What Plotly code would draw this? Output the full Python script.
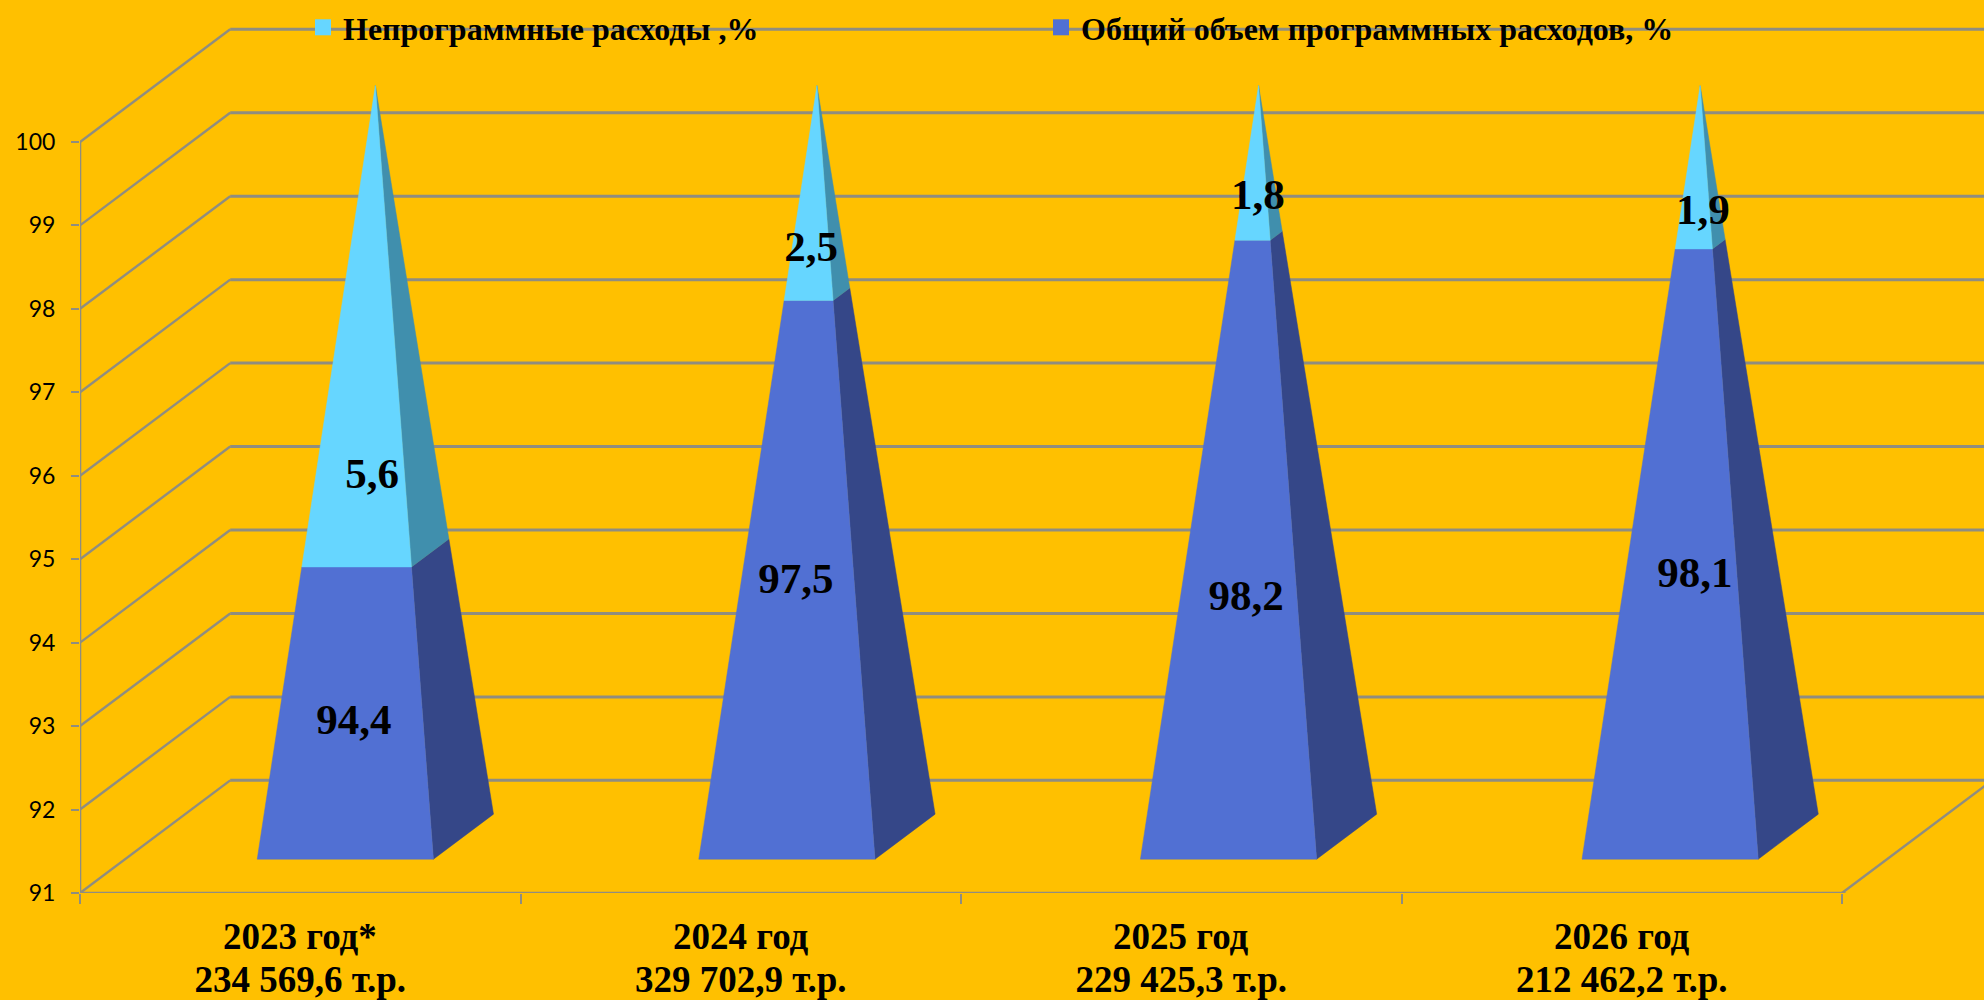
import plotly.graph_objects as go

# ---- data ----
years = ["2023 год*", "2024 год", "2025 год", "2026 год"]
totals = ["234 569,6 т.р.", "329 702,9 т.р.", "229 425,3 т.р.", "212 462,2 т.р."]
program = [94.4, 97.5, 98.2, 98.1]
nonprogram = [5.6, 2.5, 1.8, 1.9]
value_ticks = [91, 92, 93, 94, 95, 96, 97, 98, 99, 100]
name_non = "Непрограммные расходы ,%"
name_prog = "Общий объем программных расходов, %"

# ---- label anchors (axis units), placed as in the reference ----
prog_label_x = [0.622, 1.625, 2.647, 3.666]
prog_label_y = [93.03, 94.72, 94.52, 94.79]
non_label_x = [0.663, 1.660, 2.674, 3.684]
non_label_y = [95.98, 98.70, 99.32, 99.14]

# ---- oblique projection of the fake 3D box ----
W, H = 1984, 1000
L, B = 80, 107           # plot-area margins
PX_X = 440.5             # pixels per category
PX_Y = 83.45             # pixels per value unit
KX = 0.341               # category units of full depth
KY = 1.35                # value units of full depth
BASE = value_ticks[0]
TOP = 100
D0, D1 = 0.3, 0.7        # pyramid footprint
PITCH = 1.0025           # pyramid spacing relative to the category width


def proj(x, v, d):
    return x + d * KX, v + d * KY


def corner(i, fx, d, t):
    """Point on the edge from a base corner (t=0) to the apex (t=1)."""
    fx2 = fx + (0.5 - fx) * t
    d2 = d + (0.5 - d) * t
    return proj(i * PITCH + fx2, BASE + (TOP - BASE) * t, d2)


def face(i, a, b, t0, t1):
    pts = [corner(i, a[0], a[1], t0), corner(i, b[0], b[1], t0),
           corner(i, b[0], b[1], t1), corner(i, a[0], a[1], t1)]
    pts.append(pts[0])
    return [p[0] for p in pts], [p[1] for p in pts]


def faces(lows, highs, a, b):
    xs, ys = [], []
    for i, (lo, hi) in enumerate(zip(lows, highs)):
        x, y = face(i, a, b, (lo - BASE) / (TOP - BASE), (hi - BASE) / (TOP - BASE))
        xs += x + [None]
        ys += y + [None]
    return xs, ys


GRID = "#8F8D80"
BLUE, BLUE_SIDE = "#5170D3", "#354788"
CYAN, CYAN_SIDE = "#66D6FF", "#408FAD"
BG = "#FFC000"
SERIF = "Liberation Serif"
n = len(years)

fig = go.Figure()

# walls: back lines and left-wall diagonals
bx, by, dx, dy = [], [], [], []
for v in value_ticks:
    p0 = proj(0, v, 0)
    p1 = proj(0, v, 1)
    p2 = proj(n, v, 1)
    bx += [p1[0], p2[0], None]
    by += [p1[1], p2[1], None]
    dx += [p0[0], p1[0], None]
    dy += [p0[1], p1[1], None]
fl = [proj(n, BASE, 0), proj(n, BASE, 1)]
dx += [fl[0][0], fl[1][0]]
dy += [fl[0][1], fl[1][1]]
fig.add_trace(go.Scatter(x=bx, y=by, mode="lines", line=dict(color=GRID, width=3),
                         showlegend=False, hoverinfo="skip"))
fig.add_trace(go.Scatter(x=dx, y=dy, mode="lines", line=dict(color=GRID, width=2.4),
                         showlegend=False, hoverinfo="skip", cliponaxis=False))
# front axis lines
fig.add_trace(go.Scatter(x=[0, 0, n + 0.008], y=[TOP, BASE, BASE], mode="lines",
                         line=dict(color=GRID, width=2.6), showlegend=False,
                         hoverinfo="skip", cliponaxis=False))

# pyramids
FL, FR = (D0, D0), (D1, D0)
BR = (D1, D1)
low_all = [BASE] * n
tops = [p + q for p, q in zip(program, nonprogram)]
for lows, highs, col, side in [(low_all, program, BLUE, BLUE_SIDE),
                               (program, tops, CYAN, CYAN_SIDE)]:
    for a, b, c in [(FR, BR, side), (FL, FR, col)]:
        xs, ys = faces(lows, highs, a, b)
        fig.add_trace(go.Scatter(x=xs, y=ys, mode="lines", fill="toself", fillcolor=c,
                                 line=dict(color=c, width=0.5), showlegend=False,
                                 hoverinfo="skip"))

# legend entries
fig.add_trace(go.Scatter(x=[None], y=[None], mode="markers", name=name_non,
                         marker=dict(symbol="square", size=16, color=CYAN)))
fig.add_trace(go.Scatter(x=[None], y=[None], mode="markers", name=name_prog,
                         marker=dict(symbol="square", size=16, color=BLUE)))

# data labels
fmt = lambda v: f"{v:.1f}".replace(".", ",")
fig.add_trace(go.Scatter(x=prog_label_x, y=prog_label_y, mode="text",
                         text=[fmt(v) for v in program], showlegend=False,
                         textfont=dict(family=SERIF, size=43, color="black", weight="bold")))
fig.add_trace(go.Scatter(x=non_label_x, y=non_label_y, mode="text",
                         text=[fmt(v) for v in nonprogram], showlegend=False,
                         textfont=dict(family=SERIF, size=43, color="black", weight="bold")))

# first line of each category label (second line is the axis tick label)
for i, yr in enumerate(years):
    fig.add_annotation(x=i + 0.5, xref="x", y=(H - B - 937) / (H - B), yref="paper",
                       text=yr, showarrow=False, yanchor="middle", xanchor="center",
                       font=dict(family=SERIF, size=37, color="black", weight="bold"))

fig.update_layout(
    width=W, height=H, autosize=False,
    paper_bgcolor=BG, plot_bgcolor=BG,
    margin=dict(l=L, r=0, t=0, b=B, pad=0),
    legend=dict(orientation="h", x=(303 - L) / (W - L), xanchor="left",
                y=1, yanchor="top",
                entrywidth=693, entrywidthmode="pixels", itemsizing="trace",
                bgcolor="rgba(0,0,0,0)",
                font=dict(family=SERIF, size=32, color="black", weight="bold")),
    xaxis=dict(range=[0, (W - L) / PX_X], showgrid=False, zeroline=False, showline=False,
               automargin=False,
               tickmode="array", tickvals=[i + 0.5 for i in range(n)],
               ticktext=totals,
               ticks="", ticklabelstandoff=61,
               tickfont=dict(family=SERIF, size=37, color="black", weight="bold"),
               minor=dict(tickmode="array", tickvals=list(range(n + 1)), ticks="outside",
                          ticklen=10, tickwidth=2, tickcolor=GRID, showgrid=False)),
    yaxis=dict(range=[BASE, BASE + (H - B) / PX_Y], showgrid=False, zeroline=False,
               showline=False, automargin=False, tickmode="array", tickvals=value_ticks,
               ticktext=[str(v) for v in value_ticks], ticks="outside", ticklen=8,
               tickwidth=2, tickcolor=GRID, ticklabelstandoff=11,
               tickfont=dict(family="Lato", size=23, color="black")),
)

fig.write_html("out.html", config=dict(displayModeBar=False),
               post_script="document.body.style.margin='0';document.body.style.overflow='hidden';")
